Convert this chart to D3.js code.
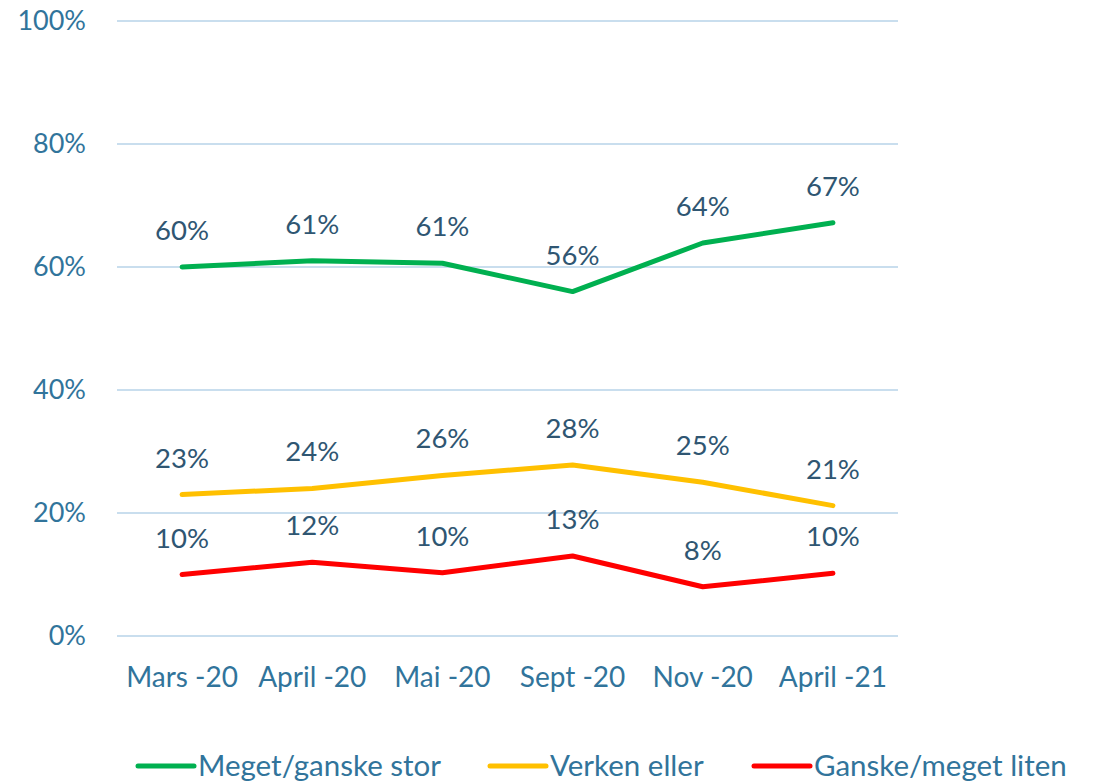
<!DOCTYPE html>
<html>
<head>
<meta charset="utf-8">
<script src="https://cdn.jsdelivr.net/npm/d3@7"></script>
<style>
  body { margin: 0; background: #fff; }
  text { font-family: Lato, "Open Sans", sans-serif; }
</style>
</head>
<body>
<div id="chart"></div>
<script>
// Data
const categories = ["Mars -20", "April -20", "Mai -20", "Sept -20", "Nov -20", "April -21"];
const seriesNames = ["Meget/ganske stor", "Verken eller", "Ganske/meget liten"];
const stor = [60, 61, 60.6, 56, 63.9, 67.2];
const verken = [23, 24, 26.1, 27.8, 25, 21.2];
const liten = [10, 12, 10.3, 13, 8, 10.2];
const labelsStor = ["60%", "61%", "61%", "56%", "64%", "67%"];
const labelsVerken = ["23%", "24%", "26%", "28%", "25%", "21%"];
const labelsLiten = ["10%", "12%", "10%", "13%", "8%", "10%"];
const yTicks = [0, 20, 40, 60, 80, 100];
const colors = ["#00B050", "#FFC000", "#FF0000"];

const series = [
    { name: seriesNames[0], values: stor, labels: labelsStor, color: colors[0] },
    { name: seriesNames[1], values: verken, labels: labelsVerken, color: colors[1] },
    { name: seriesNames[2], values: liten, labels: labelsLiten, color: colors[2] }
];

const width = 1093, height = 781;
const margin = { left: 117, right: 195, top: 21, bottom: 145 };

const svg = d3.select("#chart")
    .append("svg")
    .attr("width", width)
    .attr("height", height);

const x = d3.scaleBand()
    .domain(categories)
    .range([margin.left, width - margin.right]);

const y = d3.scaleLinear()
    .domain([0, 100])
    .range([height - margin.bottom, margin.top]);

const axisColor = "#31749B";
const labelColor = "#2F5672";

// Gridlines
svg.append("g")
    .selectAll("line")
    .data(yTicks)
    .enter()
    .append("line")
    .attr("x1", margin.left)
    .attr("x2", width - margin.right)
    .attr("y1", d => y(d))
    .attr("y2", d => y(d))
    .attr("stroke", "#C9DEEE")
    .attr("stroke-width", 2);

// Y tick labels
svg.append("g")
    .selectAll("text")
    .data(yTicks)
    .enter()
    .append("text")
    .attr("x", 86)
    .attr("y", d => y(d))
    .attr("dy", "0.35em")
    .attr("text-anchor", "end")
    .attr("fill", axisColor)
    .attr("font-size", "27px")
    .text(d => d + "%");

// X labels
svg.append("g")
    .selectAll("text")
    .data(categories)
    .enter()
    .append("text")
    .attr("x", d => x(d) + x.bandwidth() / 2)
    .attr("y", 687)
    .attr("text-anchor", "middle")
    .attr("fill", axisColor)
    .attr("font-size", "28px")
    .text(d => d);

// Lines
const line = d3.line()
    .x((d, i) => x(categories[i]) + x.bandwidth() / 2)
    .y(d => y(d));

series.forEach(s => {
    svg.append("path")
        .datum(s.values)
        .attr("d", line)
        .attr("fill", "none")
        .attr("stroke", s.color)
        .attr("stroke-width", 5)
        .attr("stroke-linecap", "round")
        .attr("stroke-linejoin", "round");

    svg.append("g")
        .selectAll("text")
        .data(s.values)
        .enter()
        .append("text")
        .attr("x", (d, i) => x(categories[i]) + x.bandwidth() / 2)
        .attr("y", d => y(d) - 27)
        .attr("text-anchor", "middle")
        .attr("fill", labelColor)
        .attr("font-size", "27.5px")
        .text((d, i) => s.labels[i]);
});

// Legend
const legendX = [138, 490, 754];
const legend = svg.append("g")
    .selectAll("g")
    .data(series)
    .enter()
    .append("g")
    .attr("transform", (d, i) => `translate(${legendX[i]}, 766)`);

legend.append("line")
    .attr("x1", 0)
    .attr("x2", 56)
    .attr("stroke", d => d.color)
    .attr("stroke-width", 5)
    .attr("stroke-linecap", "round");

legend.append("text")
    .attr("x", 60)
    .attr("dy", "0.35em")
    .attr("fill", axisColor)
    .attr("font-size", "29.5px")
    .text(d => d.name);
</script>
</body>
</html>
